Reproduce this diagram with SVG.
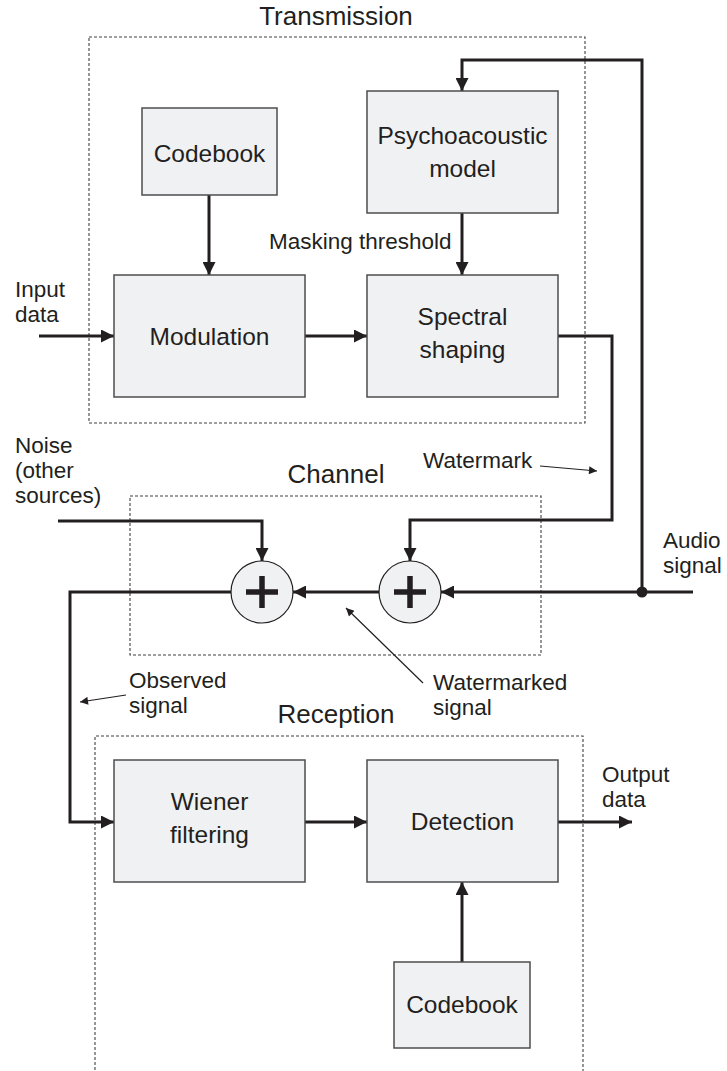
<svg xmlns="http://www.w3.org/2000/svg" width="727" height="1071" viewBox="0 0 727 1071">
<style>
text{font-family:"Liberation Sans",Arial,sans-serif;fill:#231f20}
.node{font-size:24.5px}
.lbl{font-size:22.5px}
.title{font-size:26px}
.box{fill:#f0f1f3;stroke:#4d4d4f;stroke-width:1.5}
.grp{fill:none;stroke:#414042;stroke-width:1.1;stroke-dasharray:3 2}
.w{fill:none;stroke:#231f20;stroke-width:3}
.t{fill:none;stroke:#231f20;stroke-width:1.2}
.sum{fill:#f0f1f3;stroke:#231f20;stroke-width:1.2}
.plus{stroke:#231f20;stroke-width:5.5}
</style>
<defs>
<marker id="ah" viewBox="0 0 10 10" refX="10" refY="5" markerUnits="userSpaceOnUse" markerWidth="13" markerHeight="13" orient="auto"><path d="M0,0 L10,5 L0,10 z" fill="#231f20"/></marker>
<marker id="ahs" viewBox="0 0 10 10" refX="10" refY="5" markerUnits="userSpaceOnUse" markerWidth="10" markerHeight="8" orient="auto"><path d="M0,0 L10,5 L0,10 z" fill="#231f20"/></marker>
</defs>

<g id="groups">
<rect class="grp" x="89" y="37" width="496" height="386"/>
<text class="title" x="336" y="25" text-anchor="middle">Transmission</text>
<rect class="grp" x="130" y="496" width="411" height="159"/>
<text class="title" x="336" y="483" text-anchor="middle">Channel</text>
<path class="grp" d="M95,1075 V736 H583 V1075"/>
<text class="title" x="336" y="723" text-anchor="middle">Reception</text>
</g>

<g id="connectors">
<path class="w" d="M209,195 V275" marker-end="url(#ah)"/>
<path class="w" d="M462,213 V275" marker-end="url(#ah)"/>
<path class="w" d="M39,336 H114" marker-end="url(#ah)"/>
<path class="w" d="M305,336 H367" marker-end="url(#ah)"/>
<path class="w" d="M642,592 V60 H462 V91" marker-end="url(#ah)"/>
<path class="w" d="M558,336 H612 V520 H410 V561" marker-end="url(#ah)"/>
<path class="w" d="M58,521 H262 V561" marker-end="url(#ah)"/>
<path class="w" d="M693,592 H441" marker-end="url(#ah)"/>
<path class="w" d="M379,592 H293" marker-end="url(#ah)"/>
<path class="w" d="M231,592 H70 V822 H114" marker-end="url(#ah)"/>
<path class="w" d="M305,822 H367" marker-end="url(#ah)"/>
<path class="w" d="M558,822 H632" marker-end="url(#ah)"/>
<path class="w" d="M462,962 V882" marker-end="url(#ah)"/>
<circle cx="642" cy="592" r="5.5" fill="#231f20"/>
<path class="t" d="M540,466 L597,471" marker-end="url(#ahs)"/>
<path class="t" d="M126,695 L80,702" marker-end="url(#ahs)"/>
<path class="t" d="M423,683 L346,608" marker-end="url(#ahs)"/>
</g>

<g id="codebook-tx">
<rect class="box" x="142" y="108" width="135" height="87"/>
<text class="node" x="209.5" y="162" text-anchor="middle">Codebook</text>
</g>
<g id="psychoacoustic">
<rect class="box" x="367" y="91" width="191" height="122"/>
<text class="node" x="462.5" y="144" text-anchor="middle">Psychoacoustic</text>
<text class="node" x="462.5" y="177" text-anchor="middle">model</text>
</g>
<g id="modulation">
<rect class="box" x="114" y="275" width="191" height="122"/>
<text class="node" x="209.5" y="345" text-anchor="middle">Modulation</text>
</g>
<g id="spectral">
<rect class="box" x="367" y="275" width="191" height="122"/>
<text class="node" x="462.5" y="325" text-anchor="middle">Spectral</text>
<text class="node" x="462.5" y="358" text-anchor="middle">shaping</text>
</g>
<g id="adder-left">
<circle class="sum" cx="262" cy="592" r="31"/>
<path class="plus" d="M246,592 H278 M262,576 V608"/>
</g>
<g id="adder-right">
<circle class="sum" cx="410" cy="592" r="31"/>
<path class="plus" d="M394,592 H426 M410,576 V608"/>
</g>
<g id="wiener">
<rect class="box" x="114" y="760" width="191" height="122"/>
<text class="node" x="209.5" y="810" text-anchor="middle">Wiener</text>
<text class="node" x="209.5" y="843" text-anchor="middle">filtering</text>
</g>
<g id="detection">
<rect class="box" x="367" y="760" width="191" height="122"/>
<text class="node" x="462.5" y="830" text-anchor="middle">Detection</text>
</g>
<g id="codebook-rx">
<rect class="box" x="394" y="962" width="136" height="86"/>
<text class="node" x="462" y="1013" text-anchor="middle">Codebook</text>
</g>

<g id="labels">
<text class="lbl" x="269" y="249">Masking threshold</text>
<text class="lbl" x="15" y="297">Input</text>
<text class="lbl" x="15" y="322">data</text>
<text class="lbl" x="15" y="453">Noise</text>
<text class="lbl" x="15" y="478">(other</text>
<text class="lbl" x="15" y="503">sources)</text>
<text class="lbl" x="423" y="468">Watermark</text>
<text class="lbl" x="663" y="548">Audio</text>
<text class="lbl" x="663" y="573">signal</text>
<text class="lbl" x="129" y="688">Observed</text>
<text class="lbl" x="129" y="713">signal</text>
<text class="lbl" x="433" y="690">Watermarked</text>
<text class="lbl" x="433" y="715">signal</text>
<text class="lbl" x="602" y="782">Output</text>
<text class="lbl" x="602" y="807">data</text>
</g>
</svg>
